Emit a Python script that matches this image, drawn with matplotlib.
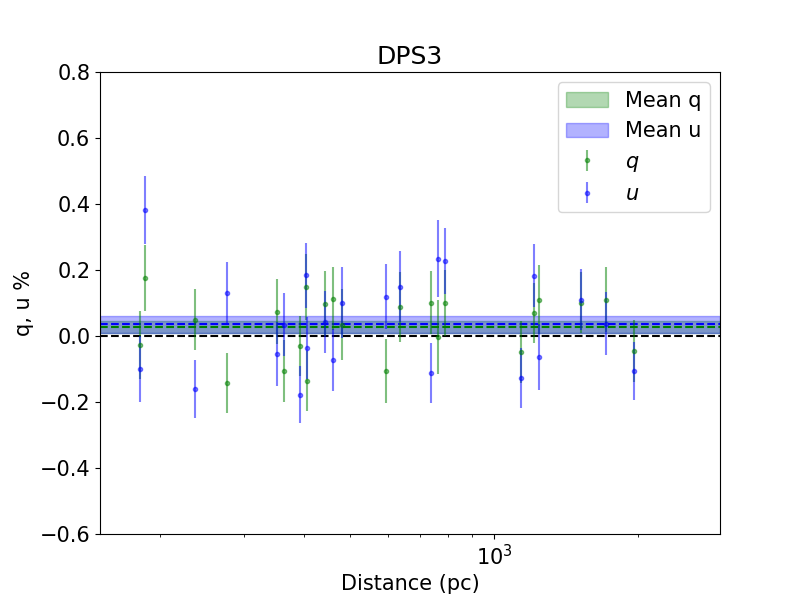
import matplotlib
matplotlib.use('Agg')
import matplotlib.pyplot as plt
import numpy as np

# distances (pc) and Stokes q, u with errors (%)
distance = [182, 186, 237, 276, 352, 364, 393, 404, 406, 443, 460, 481,
            594, 636, 738, 764, 790, 1139, 1212, 1242, 1521, 1715, 1963]
q = [-0.027, 0.177, 0.049, -0.142, 0.074, -0.106, -0.030, 0.150, -0.136,
     0.098, 0.113, 0.034, -0.106, 0.089, 0.101, -0.003, 0.101, -0.048,
     0.070, 0.110, 0.101, 0.110, -0.045]
q_err = [0.104, 0.100, 0.092, 0.090, 0.098, 0.093, 0.090, 0.100, 0.090,
         0.098, 0.095, 0.108, 0.096, 0.106, 0.095, 0.113, 0.100, 0.094,
         0.092, 0.104, 0.093, 0.098, 0.095]
u = [-0.100, 0.383, -0.160, 0.131, -0.054, 0.034, -0.178, 0.184, -0.036,
     0.042, -0.072, 0.101, 0.119, 0.149, -0.112, 0.234, 0.228, -0.127,
     0.183, -0.063, 0.110, 0.037, -0.106]
u_err = [0.100, 0.103, 0.088, 0.092, 0.096, 0.095, 0.087, 0.098, 0.095,
         0.095, 0.094, 0.107, 0.098, 0.108, 0.090, 0.117, 0.100, 0.092,
         0.095, 0.100, 0.092, 0.095, 0.089]

mean_q, mean_q_err = 0.027, 0.017
mean_u, mean_u_err = 0.035, 0.027

plt.rcParams['font.size'] = 15

fig, ax = plt.subplots(figsize=(8, 6), dpi=100)

ax.axhspan(mean_q - mean_q_err, mean_q + mean_q_err, color='g', alpha=0.3, label='Mean q')
ax.axhspan(mean_u - mean_u_err, mean_u + mean_u_err, color='b', alpha=0.3, label='Mean u')
ax.axhline(mean_u, color='b', ls='--', lw=1.5)
ax.axhline(mean_q, color='g', ls='--', lw=1.5)
ax.axhline(0, color='k', ls='--', lw=1.5)

ax.errorbar(distance, q, yerr=q_err, fmt='.', color='g', alpha=0.5, label='$q$')
ax.errorbar(distance, u, yerr=u_err, fmt='.', color='b', alpha=0.5, label='$u$')

ax.set_xscale('log')
ax.set_xlim(150, 2970)
ax.set_ylim(-0.6, 0.8)
ax.set_xlabel('Distance (pc)')
ax.set_ylabel('q, u %')
ax.set_title('DPS3')
ax.legend(loc='upper right')

fig.savefig('out.png', dpi=100)
